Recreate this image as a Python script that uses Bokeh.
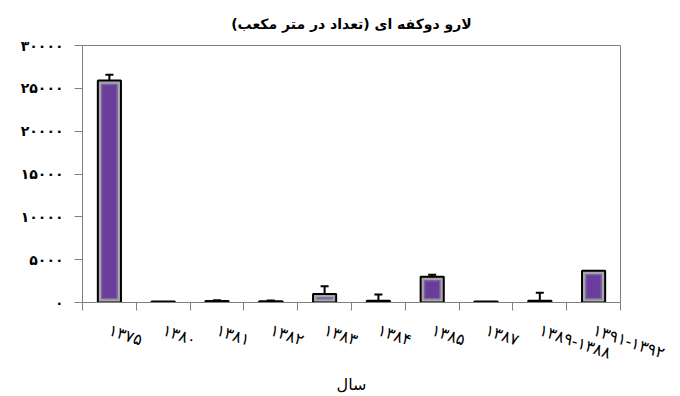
from bokeh.plotting import figure
from bokeh.models import ColumnDataSource, FixedTicker, Whisker, TeeHead, Range1d
from bokeh.embed import file_html
from bokeh.resources import INLINE

# ---- data ----
years = ["۱۳۷۵", "۱۳۸۰", "۱۳۸۱", "۱۳۸۲", "۱۳۸۳", "۱۳۸۴", "۱۳۸۵", "۱۳۸۷", "۱۳۸۹-۱۳۸۸", "۱۳۹۱-۱۳۹۲"]
values = [25900, 120, 180, 160, 1000, 200, 3000, 120, 200, 3700]
errors = [700, 0, 80, 60, 900, 730, 250, 0, 950, 0]
y_ticks = [0, 5000, 10000, 15000, 20000, 25000, 30000]
y_labels = ["۰", "۵۰۰۰", "۱۰۰۰۰", "۱۵۰۰۰", "۲۰۰۰۰", "۲۵۰۰۰", "۳۰۰۰۰"]
title_text = "لارو دوکفه ای (تعداد در متر مکعب)\u200f"
x_title = "سال"

FONT = "DejaVu Sans"
PURPLE = "#6a3d9a"
GRAY = "#a6a6a6"
AXIS = "#7f7f7f"

xs = [i + 1 for i in range(len(years))]
inset = 465

src = ColumnDataSource(dict(x=xs, top=values))
inner = [(x, v) for x, v in zip(xs, values) if v > 2 * inset]
src_in = ColumnDataSource(dict(x=[a for a, _ in inner], top=[v - inset for _, v in inner],
                               bottom=[inset] * len(inner)))
err = [(x, v, e) for x, v, e in zip(xs, values, errors) if e > 0]
src_err = ColumnDataSource(dict(x=[a for a, _, _ in err], lower=[v for _, v, _ in err],
                                upper=[v + e for _, v, e in err]))

p = figure(width=672, height=396, output_backend="svg", toolbar_location=None,
           x_range=Range1d(0.5, len(years) + 0.5), y_range=Range1d(0, 30000),
           min_border_left=82, min_border_right=52, min_border_top=44, min_border_bottom=94)

p.title.text = title_text
p.title.align = "center"
p.title.standoff = 27
p.title.text_font = FONT
p.title.text_font_size = "14px"
p.title.text_font_style = "bold"
p.title.text_color = "black"

p.vbar(x="x", top="top", bottom=0, width=0.43, source=src,
       fill_color=GRAY, line_color="black", line_width=2)
p.vbar(x="x", top="top", bottom="bottom", width=0.285, source=src_in,
       fill_color=PURPLE, line_color="#7d62a8", line_width=1.5)

wh = Whisker(base="x", lower="lower", upper="upper", source=src_err,
             upper_head=TeeHead(size=8, line_width=2, line_color="black"),
             lower_head=None, line_width=2, line_color="black")
p.add_layout(wh)

p.xgrid.visible = False
p.ygrid.visible = False
p.outline_line_color = AXIS
p.outline_line_width = 1

xa = p.xaxis[0]
xa.ticker = FixedTicker(ticks=xs, minor_ticks=[x - 0.5 for x in xs] + [xs[-1] + 0.5])
xa.major_label_overrides = {x: y for x, y in zip(xs, years)}
xa.major_tick_out = 0
xa.major_tick_in = 0
xa.minor_tick_out = 8
xa.minor_tick_in = 0
xa.minor_tick_line_color = AXIS
xa.axis_line_color = AXIS
xa.major_label_orientation = -0.33
xa.major_label_text_font = FONT
xa.major_label_text_font_size = "16px"
xa.major_label_text_color = "black"
xa.major_label_standoff = 19
xa.axis_label = x_title
xa.axis_label_text_font = FONT
xa.axis_label_text_font_size = "16px"
xa.axis_label_text_font_style = "normal"
xa.axis_label_text_color = "black"
xa.axis_label_standoff = 0

ya = p.yaxis[0]
ya.ticker = FixedTicker(ticks=y_ticks)
ya.major_label_overrides = {t: l for t, l in zip(y_ticks, y_labels)}
ya.major_tick_out = 8
ya.major_tick_in = 0
ya.minor_tick_out = 0
ya.minor_tick_in = 0
ya.major_tick_line_color = AXIS
ya.axis_line_color = AXIS
ya.major_label_text_font = FONT
ya.major_label_text_font_size = "14px"
ya.major_label_text_font_style = "bold"
ya.major_label_text_color = "black"
ya.major_label_standoff = 11

open("out.html", "w").write(file_html(p, INLINE))
